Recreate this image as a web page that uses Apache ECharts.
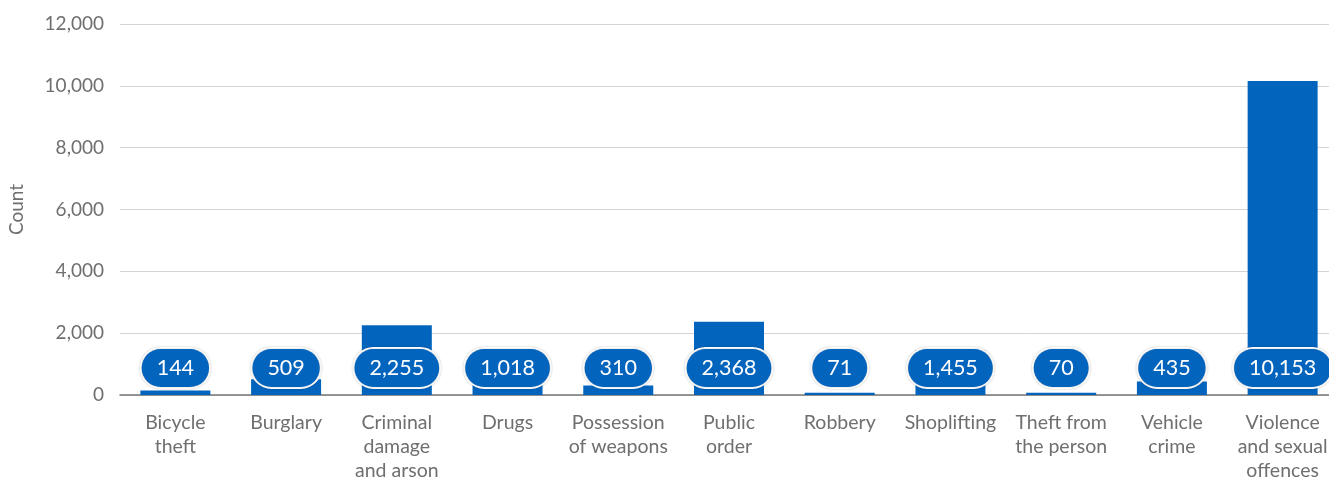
<!DOCTYPE html>
<html>
<head>
<meta charset="utf-8">
<script src="https://cdn.jsdelivr.net/npm/echarts@6/dist/echarts.min.js"></script>
<style>
  html, body { margin: 0; padding: 0; background: #fff; }
  #chart { width: 1329px; height: 480px; }
</style>
</head>
<body>
<div id="chart"></div>
<script>
// Recorded crimes by category
const categories = [
  'Bicycle\ntheft', 'Burglary', 'Criminal\ndamage\nand arson', 'Drugs',
  'Possession\nof weapons', 'Public\norder', 'Robbery', 'Shoplifting',
  'Theft from\nthe person', 'Vehicle\ncrime', 'Violence\nand sexual\noffences'
];
const counts = [144, 509, 2255, 1018, 310, 2368, 71, 1455, 70, 435, 10153];
const yTicks = [0, 2000, 4000, 6000, 8000, 10000, 12000];

const font = 'Lato, "Open Sans", sans-serif';
const chart = echarts.init(document.getElementById('chart'), null, { renderer: 'canvas' });

chart.setOption({
  animation: false,
  grid: { left: 120, right: -9, top: 24, bottom: 85, outerBoundsMode: 'none', containLabel: false },
  xAxis: {
    type: 'category',
    data: categories,
    axisLine: { lineStyle: { color: '#777', width: 1.5 } },
    axisTick: { alignWithLabel: true, length: 8, lineStyle: { color: '#777' } },
    axisLabel: {
      color: '#6f6f6f', fontFamily: font, fontSize: 19.5, lineHeight: 24,
      margin: 16, interval: 0
    }
  },
  yAxis: {
    type: 'value',
    min: yTicks[0],
    max: yTicks[yTicks.length - 1],
    interval: yTicks[1] - yTicks[0],
    name: 'Count',
    nameLocation: 'middle',
    nameGap: 94,
    nameRotate: 90,
    nameTextStyle: { color: '#6f6f6f', fontFamily: font, fontSize: 19 },
    axisLine: { show: false },
    axisTick: { show: false },
    splitLine: { lineStyle: { color: '#d4d4d4', width: 1 } },
    axisLabel: {
      color: '#6f6f6f', fontFamily: font, fontSize: 19, margin: 16,
      formatter: v => v.toLocaleString('en-US')
    }
  },
  series: [{
    type: 'bar',
    data: counts,
    barWidth: 70,
    itemStyle: { color: '#0364be' },
    label: {
      show: true,
      position: 'insideBottom',
      distance: 8,
      formatter: p => p.value.toLocaleString('en-US'),
      color: '#fff',
      fontFamily: font,
      fontSize: 21.5,
      lineHeight: 22,
      backgroundColor: '#0364be',
      borderColor: '#fff',
      borderWidth: 2,
      borderRadius: 19,
      padding: [8, 15],
      shadowColor: 'rgba(0,0,0,0.25)',
      shadowBlur: 2
    }
  }]
});
</script>
</body>
</html>
